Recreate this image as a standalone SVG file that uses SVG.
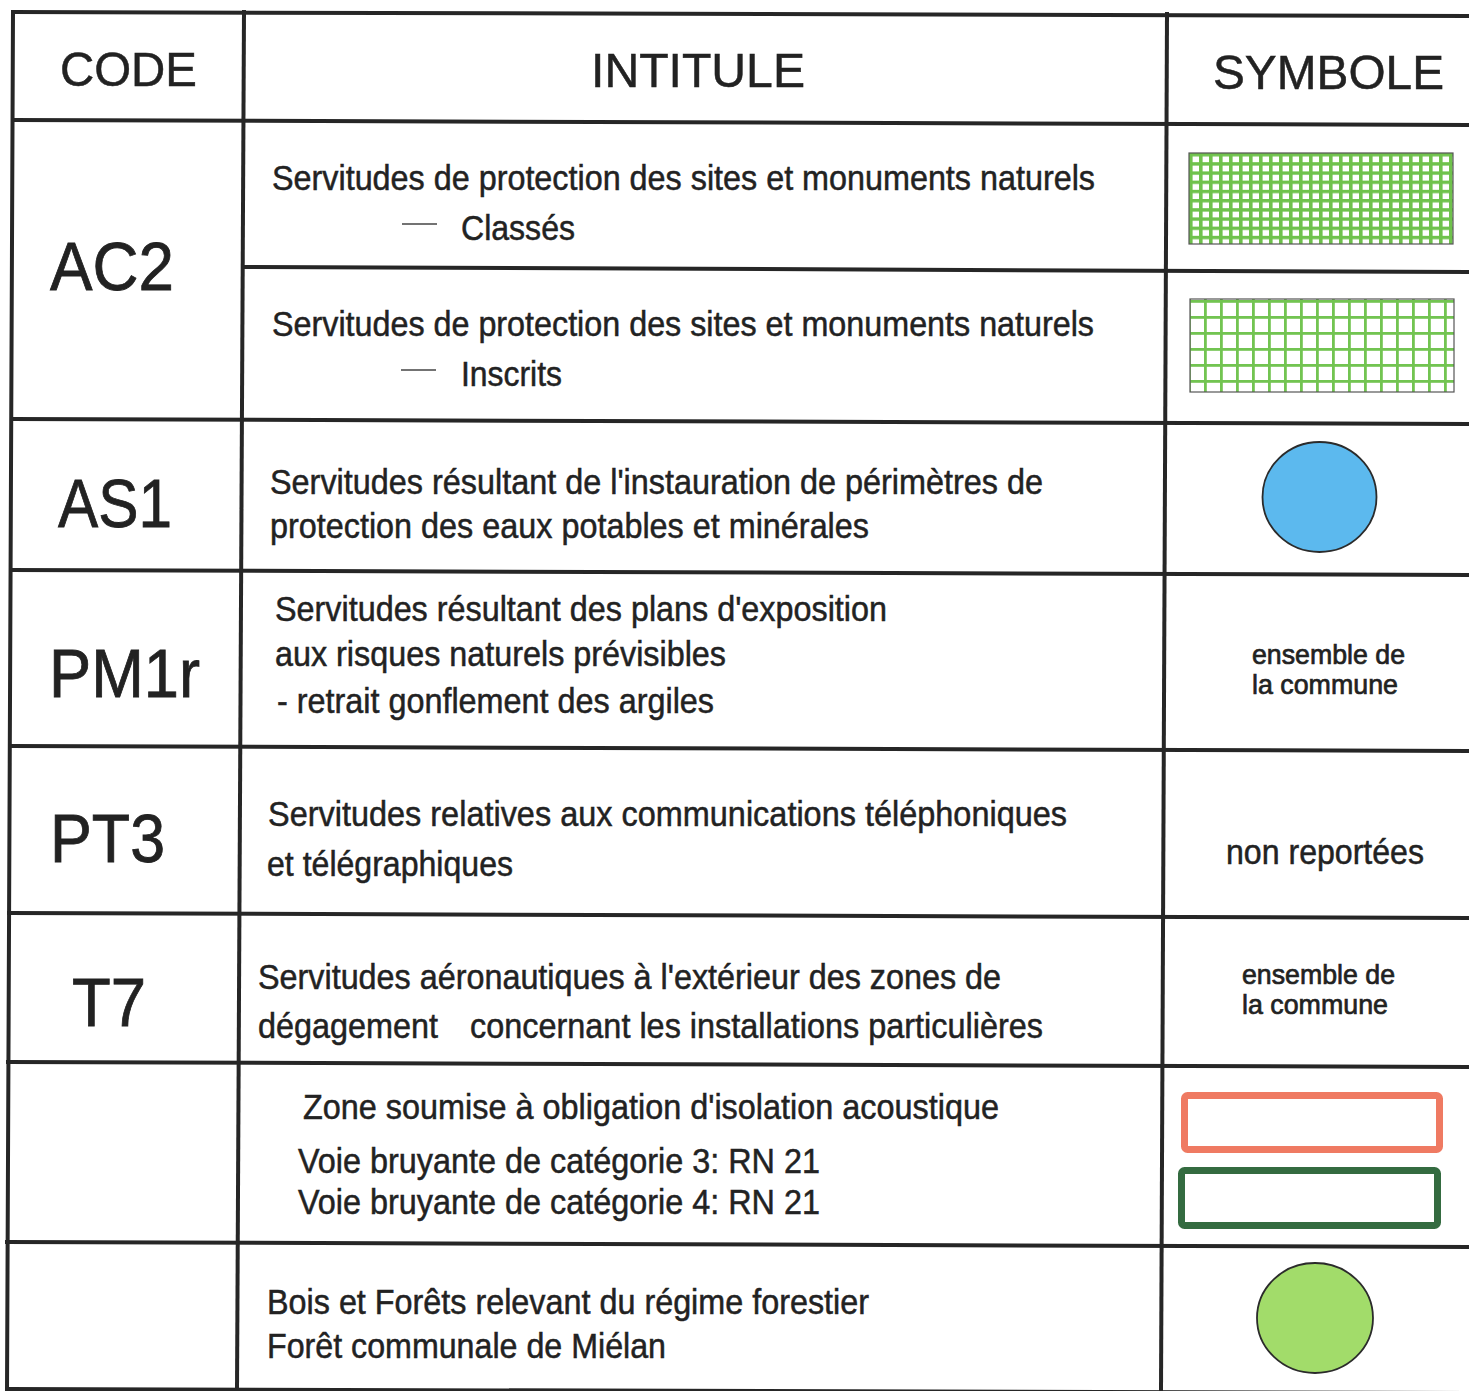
<svg xmlns="http://www.w3.org/2000/svg" width="1469" height="1391" viewBox="0 0 1469 1391">
<style>
.t{font-family:"Liberation Sans",Arial,sans-serif;fill:#222;stroke:#222;stroke-width:0.5px}
.h{font-size:49px}
.c{font-size:69px;stroke-width:0.8px}
.b{font-size:35px}
.s{font-size:28px;stroke-width:0.7px}
.g{stroke:#262626;stroke-width:4;fill:none;stroke-linecap:square}
.d{stroke:#444;stroke-width:1.6}
</style>
<defs>
<pattern id="fine" patternUnits="userSpaceOnUse" x="1189" y="153" width="10" height="9.2">
<rect width="10" height="9.2" fill="#fff"/>
<rect width="10" height="3.4" fill="#6fc24c"/>
<rect width="3.6" height="9.2" fill="#6fc24c"/>
</pattern>
<pattern id="coarse" patternUnits="userSpaceOnUse" x="1188" y="300" width="16" height="16">
<rect width="16" height="16" fill="#fff"/>
<rect width="16" height="2.8" fill="#72c451"/>
<rect width="2.8" height="16" fill="#72c451"/>
</pattern>
</defs>
<rect width="1469" height="1391" fill="#fff"/>
<g id="connectors">
<line class="g" x1="13" y1="12" x2="1469" y2="16"/>
<line class="g" x1="13" y1="120" x2="1469" y2="125"/>
<line class="g" x1="244" y1="267" x2="1469" y2="272"/>
<line class="g" x1="12" y1="419" x2="1469" y2="424"/>
<line class="g" x1="11" y1="570" x2="1469" y2="575"/>
<line class="g" x1="10" y1="746" x2="1469" y2="751"/>
<line class="g" x1="9" y1="913" x2="1469" y2="918"/>
<line class="g" x1="8" y1="1062" x2="1469" y2="1067"/>
<line class="g" x1="7" y1="1242" x2="1469" y2="1247"/>
<line class="g" x1="7" y1="1389" x2="1469" y2="1393"/>
<line class="g" x1="13" y1="12" x2="7" y2="1391"/>
<line class="g" x1="244" y1="12" x2="237" y2="1391"/>
<line class="g" x1="1167" y1="14" x2="1161" y2="1391"/>
</g>
<g id="header">
<text class="t h" x="60" y="86" textLength="137" lengthAdjust="spacingAndGlyphs">CODE</text>
<text class="t h" x="591" y="87" textLength="214" lengthAdjust="spacingAndGlyphs">INTITULE</text>
<text class="t h" x="1213" y="89" textLength="231" lengthAdjust="spacingAndGlyphs">SYMBOLE</text>
</g>
<g id="row-ac2">
<text class="t c" x="50" y="290" textLength="124" lengthAdjust="spacingAndGlyphs">AC2</text>
<text class="t b" x="272" y="190" textLength="823" lengthAdjust="spacingAndGlyphs">Servitudes de protection des sites et monuments naturels</text>
<line class="d" x1="402" y1="224" x2="437" y2="224"/>
<text class="t b" x="461" y="240" textLength="114" lengthAdjust="spacingAndGlyphs">Classés</text>
<rect x="1189" y="153" width="264" height="91" fill="url(#fine)" stroke="#555" stroke-width="1.2"/>
<text class="t b" x="272" y="336" textLength="822" lengthAdjust="spacingAndGlyphs">Servitudes de protection des sites et monuments naturels</text>
<line class="d" x1="401" y1="370" x2="436" y2="370"/>
<text class="t b" x="461" y="386" textLength="101" lengthAdjust="spacingAndGlyphs">Inscrits</text>
<rect x="1190" y="299" width="264" height="93" fill="url(#coarse)" stroke="#555" stroke-width="1.2"/>
</g>
<g id="row-as1">
<text class="t c" x="58" y="527" textLength="114" lengthAdjust="spacingAndGlyphs">AS1</text>
<text class="t b" x="270" y="494" textLength="773" lengthAdjust="spacingAndGlyphs">Servitudes résultant de l'instauration de périmètres de</text>
<text class="t b" x="270" y="538" textLength="599" lengthAdjust="spacingAndGlyphs">protection des eaux potables et minérales</text>
<ellipse cx="1319.5" cy="497" rx="57" ry="55" fill="#5cb9ee" stroke="#2b2b2b" stroke-width="1.8"/>
</g>
<g id="row-pm1r">
<text class="t c" x="49" y="697" textLength="151" lengthAdjust="spacingAndGlyphs">PM1r</text>
<text class="t b" x="275" y="621" textLength="612" lengthAdjust="spacingAndGlyphs">Servitudes résultant des plans d'exposition</text>
<text class="t b" x="275" y="666" textLength="451" lengthAdjust="spacingAndGlyphs">aux risques naturels prévisibles</text>
<text class="t b" x="277" y="713" textLength="437" lengthAdjust="spacingAndGlyphs">- retrait gonflement des argiles</text>
<text class="t s" x="1252" y="664" textLength="153" lengthAdjust="spacingAndGlyphs">ensemble de</text>
<text class="t s" x="1252" y="694" textLength="146" lengthAdjust="spacingAndGlyphs">la commune</text>
</g>
<g id="row-pt3">
<text class="t c" x="50" y="862" textLength="115" lengthAdjust="spacingAndGlyphs">PT3</text>
<text class="t b" x="268" y="826" textLength="799" lengthAdjust="spacingAndGlyphs">Servitudes relatives aux communications téléphoniques</text>
<text class="t b" x="267" y="876" textLength="246" lengthAdjust="spacingAndGlyphs">et télégraphiques</text>
<text class="t b" x="1226" y="864" font-size="33" textLength="198" lengthAdjust="spacingAndGlyphs">non reportées</text>
</g>
<g id="row-t7">
<text class="t c" x="72" y="1026" textLength="74" lengthAdjust="spacingAndGlyphs">T7</text>
<text class="t b" x="258" y="989" textLength="743" lengthAdjust="spacingAndGlyphs">Servitudes aéronautiques à l'extérieur des zones de</text>
<text class="t b" x="258" y="1038" textLength="180" lengthAdjust="spacingAndGlyphs">dégagement</text>
<text class="t b" x="470" y="1038" textLength="573" lengthAdjust="spacingAndGlyphs">concernant les installations particulières</text>
<text class="t s" x="1242" y="984" textLength="153" lengthAdjust="spacingAndGlyphs">ensemble de</text>
<text class="t s" x="1242" y="1014" textLength="146" lengthAdjust="spacingAndGlyphs">la commune</text>
</g>
<g id="row-acoustique">
<text class="t b" x="303" y="1119" textLength="696" lengthAdjust="spacingAndGlyphs">Zone soumise à obligation d'isolation acoustique</text>
<text class="t b" x="298" y="1173" textLength="522" lengthAdjust="spacingAndGlyphs">Voie bruyante de catégorie 3: RN 21</text>
<text class="t b" x="298" y="1214" textLength="522" lengthAdjust="spacingAndGlyphs">Voie bruyante de catégorie 4: RN 21</text>
<rect x="1184.5" y="1095.5" width="255" height="54" rx="3" fill="none" stroke="#ef7a62" stroke-width="7"/>
<rect x="1181.5" y="1170.5" width="256" height="55" rx="3" fill="none" stroke="#346b40" stroke-width="7"/>
</g>
<g id="row-bois">
<text class="t b" x="267" y="1314" textLength="602" lengthAdjust="spacingAndGlyphs">Bois et Forêts relevant du régime forestier</text>
<text class="t b" x="267" y="1358" textLength="399" lengthAdjust="spacingAndGlyphs">Forêt communale de Miélan</text>
<ellipse cx="1315" cy="1318" rx="58" ry="55" fill="#a2dc6a" stroke="#2b2b2b" stroke-width="1.8"/>
</g>
</svg>
